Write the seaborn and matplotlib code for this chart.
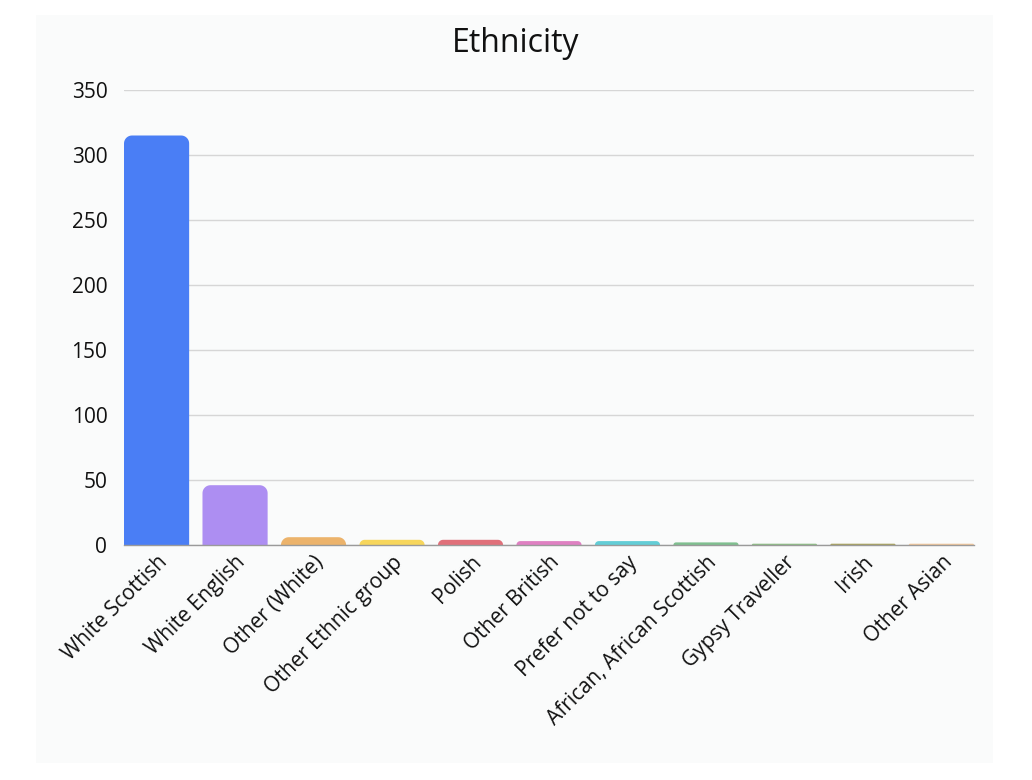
import matplotlib

matplotlib.use("Agg")
import matplotlib.pyplot as plt
import numpy as np
import pandas as pd
import seaborn as sns
from matplotlib.patches import Polygon, Rectangle

# values
categories = [
    "White Scottish",
    "White English",
    "Other (White)",
    "Other Ethnic group",
    "Polish",
    "Other British",
    "Prefer not to say",
    "African, African Scottish",
    "Gypsy Traveller",
    "Irish",
    "Other Asian",
]
counts = [315, 46, 6, 4, 4, 3, 3, 2, 1, 1, 1]
colors = [
    "#4a7ef5", "#ad8ef2", "#ecb36b", "#f7d65c", "#e0707a", "#df80c2",
    "#62cdd6", "#7fbf8f", "#8ebf86", "#a8a25f", "#f2c79c",
]
yticks = [0, 50, 100, 150, 200, 250, 300, 350]

sns.set_theme(style="white")
plt.rcParams["font.family"] = ["Open Sans", "DejaVu Sans"]

fig = plt.figure(figsize=(10.32, 7.8), dpi=100)
fig.patch.set_facecolor("white")
panel_color = "#fafbfb"
fig.add_artist(Rectangle((0.035, 0.022), 0.927, 0.959, transform=fig.transFigure,
                         facecolor=panel_color, edgecolor="none", zorder=0))

ax_w, ax_h = 850 / 1032, 455 / 780
ax = fig.add_axes([124 / 1032, 235 / 780, ax_w, ax_h])
ax.set_facecolor(panel_color)

bar_w = 0.83
df = pd.DataFrame({"category": categories, "count": counts})
sns.barplot(data=df, x="category", y="count", hue="category", palette=colors,
            saturation=1, legend=False, width=bar_w, ax=ax, zorder=3)

xlim = (-bar_w / 2, len(categories) - 1 + bar_w / 2)


def rounded_top(x, w, h, rx, ry):
    # outline of a bar with square bottom and rounded top corners
    t = np.linspace(0, np.pi / 2, 12)
    right = np.column_stack([x + w - rx + rx * np.cos(t), h - ry + ry * np.sin(t)])
    left = np.column_stack([x + rx - rx * np.sin(t), h - ry + ry * np.cos(t)])
    return np.vstack([[x, 0], [x + w, 0], right, left])


# swap square bars for bars with rounded top corners
px_x = ax_w * 1032 / (xlim[1] - xlim[0])  # pixels per x unit
px_y = ax_h * 780 / 350                    # pixels per y unit
for bar in list(ax.patches):
    x, w, h = bar.get_x(), bar.get_width(), bar.get_height()
    fc = bar.get_facecolor()
    bar.remove()
    r_px = min(8, h * px_y)
    ax.add_patch(Polygon(rounded_top(x, w, h, r_px / px_x, r_px / px_y), closed=True,
                         facecolor=fc, edgecolor="none", zorder=3))

ax.set_xlim(*xlim)
ax.set_ylim(0, 350)
ax.set_yticks(yticks)
ax.yaxis.grid(True, color="#d6d6d6", linewidth=1, zorder=0)
ax.xaxis.grid(False)
for side in ["top", "right", "left"]:
    ax.spines[side].set_visible(False)
ax.spines["bottom"].set_color("#9a9a9a")
ax.spines["bottom"].set_linewidth(1)
ax.spines["bottom"].set_zorder(4)

ax.set_xlabel("")
ax.set_ylabel("")
ax.tick_params(axis="y", labelsize=15, colors="#111111", length=0, pad=12)
ax.tick_params(axis="x", labelsize=15, colors="#111111", length=0, pad=5)
plt.setp(ax.get_xticklabels(), rotation=45, ha="right", rotation_mode="anchor")

fig.text(0.5, 0.944, "Ethnicity", ha="center", va="center", fontsize=23, color="#111111")

fig.savefig("out.png", dpi=100, facecolor="white")
